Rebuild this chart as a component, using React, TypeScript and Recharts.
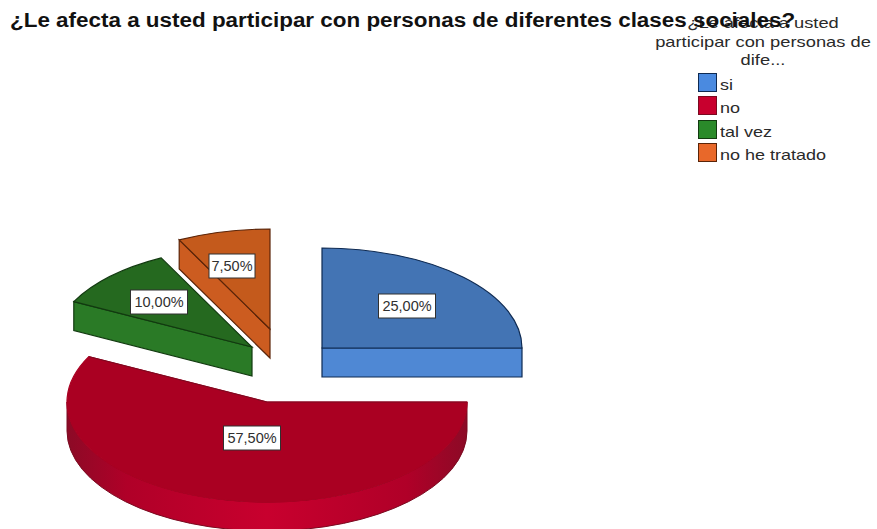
import React from "react";
import { PieChart, Pie, Legend } from "recharts";

const TITLE = "¿Le afecta a usted participar con personas de diferentes clases sociales?";
const LEGEND_TITLE = ["¿Le afecta a usted", "participar con personas de", "dife..."];
const CATEGORIES = ["si", "no", "tal vez", "no he tratado"];
const VALUES = [25, 57.5, 10, 7.5];

const LEGEND_FILL = ["#4a8ae0", "#c8002e", "#2a8a2a", "#e8682a"];
const TOP_FILL = ["#4374b4", "#aa0022", "#25691f", "#c45a1c"];
const SIDE_FILL = ["#4f88d4", "#c4002c", "#2a7a26", "#cc5c20"];
const EDGE = ["#0e2a52", "#7a0a20", "#123a10", "#5a2408"];
const EXPLODE = [[37, -17], [-18, 37], [-33, -18], [-15, -36]];
const LABEL_SHIFT = [[85, -42], [-15, 36], [-93, -45], [-38, -63]];

const CX = 285;
const CY = 365;
const RX = 200;
const DEPTH = 29;

const rows = CATEGORIES.map((name, i) => ({ name, value: VALUES[i], fill: LEGEND_FILL[i] }));
const rad = (d: number) => (d * Math.PI) / 180;

function centre(index: number, cx: number, cy: number) {
  const [ox, oy] = EXPLODE[index];
  return [cx + ox, cy + oy];
}

function Slice(props: any) {
  const { cx, cy, startAngle, endAngle, outerRadius, index } = props;
  const rx = outerRadius;
  const ry = outerRadius / 2;
  const [x0, y0] = centre(index, cx, cy);
  const p = (a: number) => [x0 + rx * Math.cos(rad(a)), y0 - ry * Math.sin(rad(a))];
  const [sx, sy] = p(startAngle);
  const [ex, ey] = p(endAngle);
  const large = Math.abs(startAngle - endAngle) > 180 ? 1 : 0;
  const top = `M${x0} ${y0}L${sx} ${sy}A${rx} ${ry} 0 ${large} 1 ${ex} ${ey}Z`;
  const wall = (a: number) => {
    const [x, y] = p(a);
    return `M${x0} ${y0}L${x} ${y}L${x} ${y + DEPTH}L${x0} ${y0 + DEPTH}Z`;
  };
  const outerFrom = Math.min(startAngle, 0);
  const outerTo = Math.max(endAngle, -180);
  const showOuter = outerFrom > outerTo;
  let outer = "";
  if (showOuter) {
    const [ax, ay] = p(outerFrom);
    const [bx, by] = p(outerTo);
    outer = `M${ax} ${ay}A${rx} ${ry} 0 0 1 ${bx} ${by}L${bx} ${by + DEPTH}A${rx} ${ry} 0 0 0 ${ax} ${ay + DEPTH}Z`;
  }
  const startVisible = Math.cos(rad(startAngle)) < -1e-6;
  const endVisible = Math.cos(rad(endAngle)) > 1e-6;
  const isRed = index === 1;
  const stroke = EDGE[index];
  return (
    <g>
      {showOuter && <path d={outer} fill={isRed ? "url(#redSide)" : SIDE_FILL[index]} stroke={stroke} strokeWidth={1} />}
      {startVisible && <path d={wall(startAngle)} fill={SIDE_FILL[index]} stroke={stroke} strokeWidth={1.2} />}
      {endVisible && <path d={wall(endAngle)} fill={SIDE_FILL[index]} stroke={stroke} strokeWidth={1.2} />}
      <path d={top} fill={TOP_FILL[index]} stroke={isRed ? TOP_FILL[1] : stroke} strokeWidth={1.2} />
      {isRed && <path d={`M${sx} ${sy}L${x0} ${y0}L${ex} ${ey}`} fill="none" stroke={stroke} strokeWidth={1} />}
    </g>
  );
}

function SliceLabel(props: any) {
  const { cx, cy, index, value } = props;
  const [x0, y0] = centre(index, cx, cy);
  const [dx, dy] = LABEL_SHIFT[index];
  const text = value.toFixed(2).replace(".", ",") + "%";
  const w = text.length === 6 ? 57 : 46;
  return (
    <g>
      <rect x={x0 + dx - w / 2} y={y0 + dy - 12} width={w} height={24} fill="#ffffff" stroke="#303030" strokeWidth={1} />
      <text x={x0 + dx} y={y0 + dy + 5} textAnchor="middle" fontFamily="'Liberation Sans', Arial, sans-serif" fontSize={14.5} fill="#303030">
        {text}
      </text>
    </g>
  );
}

function LegendBox(props: any) {
  const items = props.payload || [];
  return (
    <div style={{ fontFamily: "'Liberation Sans', Arial, sans-serif", color: "#2a2a2a" }}>
      <div style={{ position: "absolute", left: 6, top: 1, width: 220, textAlign: "center", fontSize: 15, lineHeight: "18.5px", transform: "scaleX(1.22)" }}>
        {LEGEND_TITLE.map((t) => (
          <div key={t}>{t}</div>
        ))}
      </div>
      {items.map((it: any, i: number) => (
        <div key={it.value} style={{ position: "absolute", left: 51, top: 59 + i * 23.6, display: "flex", alignItems: "center", height: 20, whiteSpace: "nowrap" }}>
          <span style={{ width: 19, height: 19, boxSizing: "border-box", background: it.color, border: "1.5px solid " + EDGE[i], marginRight: 3, display: "inline-block", flex: "none" }} />
          <span style={{ fontSize: 15, display: "inline-block", transform: "scaleX(1.2)", transformOrigin: "left center", position: "relative", top: 2 }}>{it.value}</span>
        </div>
      ))}
    </div>
  );
}

export default function App() {
  return (
    <div style={{ position: "absolute", left: 0, top: 0, width: 877, height: 529, overflow: "hidden", background: "#ffffff" }}>
      <PieChart width={877} height={529} margin={{ top: 0, right: 0, bottom: 0, left: 0 }}>
        <defs>
          <linearGradient id="redSide" x1="0" y1="0" x2="1" y2="0">
            <stop offset="0" stopColor="#8c0a26" />
            <stop offset="0.15" stopColor="#b00028" />
            <stop offset="0.5" stopColor="#c8002e" />
            <stop offset="0.85" stopColor="#b00028" />
            <stop offset="1" stopColor="#8c0a26" />
          </linearGradient>
        </defs>
        <Pie
          data={rows}
          dataKey="value"
          nameKey="name"
          cx={CX}
          cy={CY}
          outerRadius={RX}
          innerRadius={0}
          startAngle={90}
          endAngle={-270}
          paddingAngle={0}
          isAnimationActive={false}
          shape={Slice}
          label={SliceLabel}
          labelLine={false}
        />
        <Legend itemSorter={null} content={LegendBox} wrapperStyle={{ position: "absolute", left: 647, top: 13, width: 220, height: 150 }} />
      </PieChart>
      <div style={{ position: "absolute", left: 10, top: 9, whiteSpace: "nowrap", fontFamily: "'Liberation Sans', Arial, sans-serif", fontWeight: "bold", fontSize: 19.5, color: "#111", transform: "scaleX(1.15)", transformOrigin: "left top" }}>
        {TITLE}
      </div>
    </div>
  );
}
